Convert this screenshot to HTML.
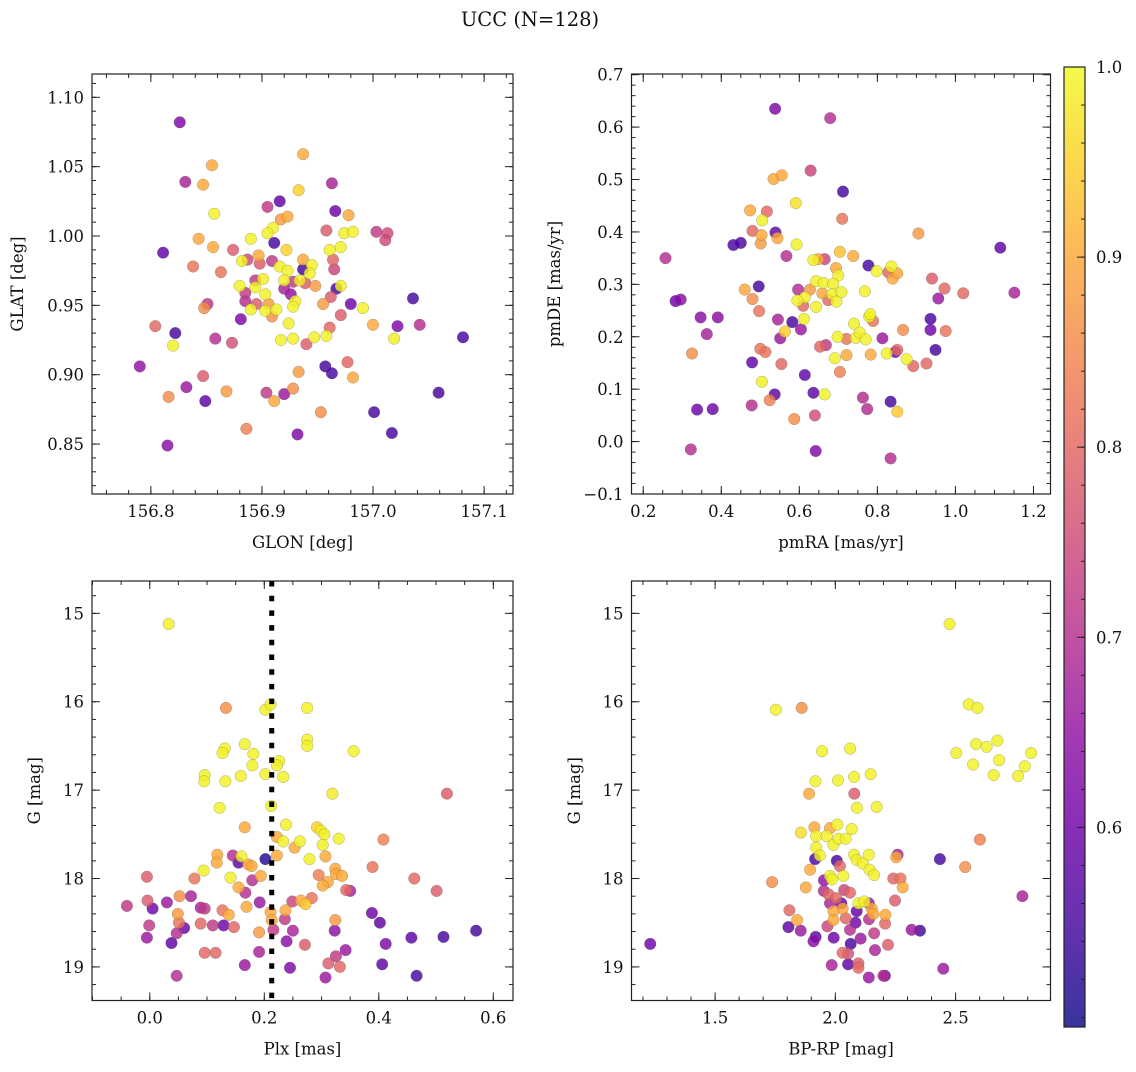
<!DOCTYPE html>
<html><head><meta charset="utf-8"><style>
html,body{margin:0;padding:0;background:#fff;}
svg text{font-family:"DejaVu Serif","Liberation Serif",serif;fill:#111;}
</style></head><body>
<svg id="fig" width="1136" height="1067" viewBox="0 0 1136 1067" xmlns="http://www.w3.org/2000/svg">
<defs>
<linearGradient id="plasma" x1="0" y1="1" x2="0" y2="0">
<stop offset="0" stop-color="#0d0887"/><stop offset="0.1" stop-color="#41049d"/><stop offset="0.2" stop-color="#6a00a8"/><stop offset="0.3" stop-color="#8f0da4"/><stop offset="0.4" stop-color="#b12a90"/><stop offset="0.5" stop-color="#cc4778"/><stop offset="0.6" stop-color="#e16462"/><stop offset="0.7" stop-color="#f2844b"/><stop offset="0.8" stop-color="#fca636"/><stop offset="0.9" stop-color="#fcce25"/><stop offset="1" stop-color="#f0f921"/>
</linearGradient>
</defs>
<text x="530" y="26" font-size="19.5" text-anchor="middle">UCC (N=128)</text>
</svg>
<script>
// Panel A: GLON vs GLAT
const glon=[156.826,156.937,156.855,156.831,156.847,156.933,156.963,156.916,156.905,156.966,156.857,156.923,156.917,156.978,156.91,156.905,156.958,156.974,156.982,157.003,157.013,157.011,156.843,156.89,156.911,156.811,156.856,156.922,156.961,156.971,156.874,156.897,156.838,156.863,156.882,156.887,156.898,156.909,156.916,156.923,156.937,156.945,156.937,156.964,156.965,156.943,156.92,156.934,156.928,156.939,156.948,156.901,156.894,156.88,156.894,156.92,156.926,156.967,156.971,156.885,156.903,156.885,156.895,156.906,156.93,156.962,156.955,156.98,157.036,156.851,156.848,156.89,156.903,156.913,156.909,156.928,156.991,156.971,156.881,156.924,157.0,157.022,157.042,156.961,156.804,156.822,156.82,156.858,156.873,156.917,156.928,156.94,156.947,156.958,157.019,157.081,156.79,156.957,156.963,156.977,156.982,156.933,156.847,156.832,156.816,156.868,156.849,156.904,156.92,156.928,156.911,157.059,156.953,157.001,157.017,156.886,156.932,156.815];
const glat=[1.082,1.059,1.051,1.039,1.037,1.033,1.038,1.025,1.021,1.018,1.016,1.014,1.012,1.015,1.006,1.002,1.004,1.002,1.003,1.003,1.002,0.997,0.998,0.998,0.995,0.988,0.992,0.99,0.99,0.992,0.99,0.986,0.978,0.974,0.982,0.983,0.98,0.982,0.978,0.975,0.983,0.979,0.976,0.983,0.976,0.973,0.968,0.968,0.967,0.966,0.964,0.969,0.968,0.964,0.963,0.962,0.958,0.962,0.964,0.959,0.958,0.953,0.951,0.951,0.953,0.956,0.951,0.951,0.955,0.951,0.948,0.947,0.946,0.947,0.942,0.949,0.948,0.943,0.94,0.937,0.936,0.935,0.936,0.934,0.935,0.93,0.921,0.926,0.923,0.925,0.926,0.922,0.927,0.928,0.926,0.927,0.906,0.906,0.901,0.909,0.898,0.902,0.899,0.891,0.884,0.888,0.881,0.887,0.886,0.89,0.881,0.887,0.873,0.873,0.858,0.861,0.857,0.849];
const probA=[0.62,0.9,0.9,0.68,0.9,0.95,0.68,0.58,0.72,0.6,0.99,0.9,0.88,0.9,0.99,0.99,0.78,0.99,0.99,0.72,0.75,0.75,0.9,0.99,0.55,0.58,0.9,0.95,0.99,0.99,0.78,0.9,0.82,0.82,0.99,0.75,0.78,0.72,0.99,0.99,0.9,0.99,0.55,0.8,0.74,0.99,0.99,0.99,0.72,0.78,0.88,0.99,0.72,0.99,0.99,0.68,0.65,0.55,0.99,0.72,0.99,0.7,0.78,0.88,0.99,0.78,0.88,0.6,0.55,0.72,0.86,0.99,0.99,0.99,0.86,0.99,0.99,0.78,0.62,0.99,0.9,0.62,0.7,0.8,0.8,0.55,0.99,0.7,0.76,0.99,0.99,0.78,0.99,0.99,0.99,0.55,0.65,0.55,0.55,0.8,0.9,0.88,0.78,0.66,0.86,0.88,0.58,0.72,0.66,0.86,0.9,0.55,0.86,0.55,0.55,0.84,0.62,0.64];
// Panel B: pmRA vs pmDE
const pmra=[0.538,0.679,0.534,0.555,0.629,0.712,0.591,0.474,0.517,0.505,0.71,0.48,0.503,0.501,0.539,0.544,0.431,0.45,0.593,0.567,0.905,1.115,0.257,0.636,0.648,0.665,0.704,0.738,0.777,0.798,0.828,0.836,0.839,0.851,0.694,0.7,0.643,0.662,0.687,0.496,0.46,0.48,0.597,0.627,0.614,0.595,0.61,0.643,0.659,0.674,0.684,0.708,0.695,0.768,0.283,0.296,0.94,0.972,1.02,0.956,1.151,0.347,0.391,0.363,0.497,0.545,0.582,0.612,0.604,0.563,0.551,0.668,0.653,0.698,0.721,0.74,0.745,0.755,0.77,0.779,0.789,0.782,0.813,0.866,0.936,0.975,0.936,0.949,0.851,0.846,0.824,0.783,0.721,0.691,0.875,0.892,0.926,0.325,0.5,0.513,0.479,0.554,0.504,0.614,0.704,0.537,0.524,0.636,0.665,0.763,0.478,0.338,0.378,0.587,0.64,0.774,0.834,0.851,0.322,0.642,0.834];
const pmde=[0.635,0.617,0.501,0.508,0.517,0.477,0.455,0.441,0.439,0.422,0.425,0.402,0.394,0.378,0.399,0.388,0.375,0.379,0.376,0.354,0.397,0.37,0.35,0.346,0.348,0.348,0.362,0.354,0.336,0.325,0.323,0.334,0.311,0.321,0.331,0.317,0.306,0.303,0.301,0.296,0.29,0.272,0.29,0.29,0.275,0.269,0.259,0.257,0.283,0.27,0.281,0.285,0.267,0.287,0.268,0.271,0.311,0.292,0.283,0.273,0.284,0.237,0.237,0.205,0.249,0.233,0.228,0.234,0.214,0.21,0.197,0.184,0.181,0.2,0.196,0.225,0.198,0.208,0.195,0.238,0.23,0.243,0.197,0.213,0.213,0.211,0.234,0.175,0.175,0.171,0.168,0.166,0.165,0.159,0.157,0.144,0.149,0.168,0.177,0.171,0.151,0.148,0.114,0.127,0.133,0.09,0.079,0.093,0.09,0.084,0.069,0.061,0.062,0.043,0.05,0.062,0.076,0.057,-0.015,-0.018,-0.032];
const probB=[0.62,0.7,0.9,0.9,0.74,0.55,0.97,0.9,0.8,0.99,0.82,0.8,0.9,0.88,0.58,0.9,0.56,0.56,0.99,0.7,0.88,0.58,0.7,0.99,0.9,0.74,0.93,0.9,0.55,0.99,0.8,0.99,0.9,0.9,0.9,0.99,0.99,0.99,0.99,0.55,0.9,0.86,0.7,0.88,0.99,0.99,0.8,0.99,0.9,0.8,0.99,0.99,0.99,0.99,0.6,0.64,0.78,0.8,0.8,0.66,0.68,0.64,0.64,0.68,0.82,0.68,0.55,0.99,0.66,0.95,0.66,0.72,0.8,0.99,0.82,0.99,0.99,0.99,0.99,0.99,0.82,0.99,0.66,0.86,0.6,0.82,0.55,0.55,0.8,0.6,0.99,0.9,0.9,0.99,0.99,0.8,0.8,0.86,0.82,0.82,0.58,0.8,0.99,0.58,0.84,0.58,0.84,0.58,0.99,0.7,0.7,0.6,0.6,0.86,0.76,0.7,0.55,0.94,0.7,0.62,0.7];
// Panel C: Plx vs G
const plx=[0.033,0.133,0.202,0.211,0.275,0.275,0.275,0.166,0.131,0.127,0.181,0.226,0.222,0.179,0.356,0.096,0.095,0.159,0.202,0.233,0.132,0.319,0.519,0.122,0.212,0.166,0.238,0.292,0.299,0.305,0.222,0.233,0.262,0.253,0.302,0.33,0.408,0.118,0.117,0.145,0.155,0.16,0.172,0.178,0.202,0.222,0.279,0.307,0.094,0.324,0.389,-0.005,0.078,0.141,0.179,0.194,0.295,0.311,0.302,0.325,0.336,0.462,0.501,0.155,0.167,0.343,0.35,0.052,0.072,-0.004,0.03,-0.04,0.005,0.089,0.096,0.192,0.169,0.249,0.264,0.272,0.283,0.127,0.138,0.049,0.051,0.06,0.089,0.11,0.129,0.147,-0.001,-0.005,0.047,0.038,0.211,0.213,0.237,0.236,0.191,0.216,0.25,0.239,0.271,0.323,0.324,0.388,0.402,0.412,0.457,0.513,0.57,0.096,0.115,0.191,0.342,0.325,0.312,0.332,0.166,0.245,0.406,0.047,0.307,0.466];
const gmagC=[15.12,16.07,16.09,16.03,16.07,16.43,16.5,16.48,16.53,16.58,16.59,16.67,16.72,16.72,16.56,16.83,16.9,16.84,16.82,16.85,16.9,17.04,17.04,17.2,17.18,17.42,17.39,17.42,17.46,17.5,17.53,17.58,17.58,17.65,17.62,17.55,17.56,17.73,17.82,17.74,17.82,17.75,17.84,17.86,17.78,17.74,17.78,17.75,17.91,17.89,17.87,17.98,18.0,17.99,18.02,17.97,17.96,18.04,18.08,17.95,17.97,18.0,18.14,18.1,18.16,18.13,18.14,18.2,18.2,18.25,18.27,18.31,18.34,18.33,18.34,18.27,18.32,18.26,18.25,18.29,18.22,18.36,18.41,18.4,18.5,18.56,18.51,18.53,18.53,18.55,18.53,18.67,18.62,18.73,18.38,18.47,18.36,18.46,18.61,18.58,18.59,18.71,18.75,18.59,18.47,18.39,18.5,18.74,18.67,18.66,18.59,18.84,18.84,18.83,18.81,18.88,18.96,19.0,18.98,19.01,18.97,19.1,19.12,19.1];
const probC=[0.99,0.86,0.99,0.99,0.99,0.99,0.99,0.99,0.99,0.99,0.99,0.99,0.99,0.99,0.99,0.99,0.99,0.99,0.99,0.99,0.99,0.98,0.78,0.99,0.99,0.9,0.99,0.95,0.99,0.99,0.9,0.99,0.99,0.9,0.99,0.99,0.84,0.9,0.9,0.7,0.58,0.99,0.9,0.9,0.52,0.9,0.99,0.9,0.99,0.9,0.82,0.78,0.82,0.99,0.7,0.9,0.84,0.9,0.9,0.9,0.9,0.8,0.78,0.9,0.7,0.8,0.68,0.86,0.68,0.78,0.66,0.72,0.6,0.68,0.72,0.66,0.9,0.74,0.9,0.94,0.82,0.82,0.9,0.88,0.82,0.6,0.8,0.72,0.6,0.8,0.72,0.66,0.7,0.58,0.9,0.9,0.9,0.72,0.88,0.72,0.68,0.64,0.78,0.64,0.88,0.6,0.58,0.62,0.58,0.55,0.55,0.8,0.8,0.68,0.66,0.72,0.78,0.8,0.66,0.62,0.58,0.7,0.66,0.55];
const plxMedian=0.213;
// Panel D: BP-RP vs G
const bprp=[2.475,1.753,1.86,2.555,2.591,2.674,2.585,2.629,2.503,2.814,2.573,2.681,2.788,2.658,2.76,1.945,2.062,1.917,2.011,2.078,2.147,1.891,2.079,2.09,2.172,1.857,1.913,1.92,1.92,1.936,1.978,2.008,1.964,1.992,2.013,2.043,2.068,1.916,2.006,2.019,1.895,2.078,2.089,2.114,2.139,2.142,2.161,2.033,1.978,1.986,1.953,2.259,2.253,2.435,2.601,2.54,1.737,1.877,2.241,2.271,2.28,2.778,2.248,1.952,1.972,2.003,2.037,2.061,2.025,1.978,2.096,2.121,2.139,2.151,2.03,1.992,2.089,2.158,2.208,1.992,2.043,2.14,2.207,1.809,1.841,1.805,1.856,1.967,2.084,2.061,1.918,1.909,1.993,2.064,2.105,2.161,2.219,2.165,2.03,2.053,1.23,2.317,2.352,1.985,2.053,2.096,2.096,2.139,2.2,2.206,2.449];
const gmagD=[15.12,16.09,16.07,16.03,16.07,16.44,16.48,16.51,16.58,16.58,16.71,16.66,16.73,16.83,16.84,16.56,16.53,16.9,16.89,16.85,16.82,17.04,17.04,17.2,17.19,17.48,17.42,17.52,17.65,17.74,17.43,17.39,17.52,17.62,17.55,17.55,17.44,17.78,17.8,17.86,17.9,17.73,17.79,17.83,17.73,17.9,17.96,17.97,17.97,18.01,18.02,17.73,17.76,17.78,17.56,17.87,18.04,18.1,18.0,18.0,18.1,18.2,18.25,18.14,18.18,18.22,18.13,18.16,18.28,18.28,18.28,18.26,18.28,18.34,18.34,18.37,18.37,18.4,18.41,18.47,18.45,18.46,18.51,18.36,18.47,18.55,18.59,18.54,18.5,18.58,18.66,18.71,18.67,18.74,18.68,18.62,18.75,18.81,18.84,18.85,18.74,18.58,18.59,18.98,18.97,18.96,19.01,19.12,19.1,19.1,19.02];
const probD=[0.99,0.99,0.86,0.99,0.99,0.99,0.99,0.99,0.99,0.99,0.99,0.99,0.99,0.99,0.99,0.99,0.99,0.99,0.99,0.99,0.99,0.9,0.78,0.99,0.99,0.97,0.9,0.99,0.99,0.99,0.9,0.99,0.99,0.99,0.99,0.99,0.99,0.55,0.55,0.8,0.9,0.99,0.99,0.99,0.99,0.99,0.99,0.99,0.99,0.99,0.65,0.68,0.9,0.55,0.84,0.86,0.86,0.9,0.8,0.82,0.9,0.68,0.78,0.7,0.8,0.8,0.74,0.8,0.6,0.68,0.99,0.99,0.66,0.9,0.9,0.9,0.58,0.9,0.9,0.9,0.8,0.7,0.8,0.8,0.9,0.58,0.66,0.74,0.6,0.7,0.58,0.64,0.6,0.55,0.66,0.72,0.78,0.68,0.8,0.76,0.6,0.66,0.55,0.68,0.58,0.78,0.8,0.66,0.7,0.6,0.66];
const cbTicks=[0.6,0.7,0.8,0.9,1.0];
const vmin=0.495, vmax=1.0;

const NS='http://www.w3.org/2000/svg';
const svg=document.getElementById('fig');
const stops=[[13,8,135],[65,4,157],[106,0,168],[143,13,164],[177,42,144],[204,71,120],[225,100,98],[242,132,75],[252,166,54],[252,206,37],[240,249,33]];
function cmap(v){let t=(v-vmin)/(vmax-vmin);t=Math.max(0,Math.min(1,t))*10;const i=Math.min(9,Math.floor(t)),f=t-i;const a=stops[i],b=stops[i+1];return 'rgb('+a.map((c,k)=>Math.round(c+(b[k]-c)*f)).join(',')+')';}
function el(tag,attrs,parent){const e=document.createElementNS(NS,tag);for(const k in attrs)e.setAttribute(k,attrs[k]);(parent||svg).appendChild(e);return e;}
function fmt(v,d){const s=Math.abs(v).toFixed(d);return (v<-1e-9?'\u2212':'')+s;}

function panel(cfg){
  const g=el('g',{});
  
  
  const L=cfg.box[0],R=cfg.box[1],T=cfg.box[2],B=cfg.box[3];
  const sx=v=>L+(v-cfg.xr[0])/(cfg.xr[1]-cfg.xr[0])*(R-L);
  const sy=v=>cfg.yinv? T+(v-cfg.yr[0])/(cfg.yr[1]-cfg.yr[0])*(B-T) : B-(v-cfg.yr[0])/(cfg.yr[1]-cfg.yr[0])*(B-T);
  const pg=el('g',{},g);
  
  
  const order=cfg.xs.map((_,i)=>i).sort((a,b)=>cfg.c[a]-cfg.c[b]);
  order.forEach(i=>{
    const c=el('circle',{cx:sx(cfg.xs[i]).toFixed(1),cy:sy(cfg.ys[i]).toFixed(1),r:5.8,fill:cmap(cfg.c[i]),'fill-opacity':0.82,stroke:'#555','stroke-opacity':0.45,'stroke-width':0.5},pg);
    
    
  });
  if(cfg.vline!==undefined){
    const l=el('line',{x1:sx(cfg.vline),x2:sx(cfg.vline),y1:T,y2:B,stroke:'#000','stroke-width':5,'stroke-dasharray':'5.5,9.2'},g);
    
    
  }
  const f=el('rect',{x:L,y:T,width:R-L,height:B-T,fill:'none',stroke:'#222','stroke-width':1.2},g);
  
  
  const tk=el('g',{stroke:'#222','stroke-width':1},g);
  
  
  const eps=1e-9;
  for(let v=Math.ceil(cfg.xr[0]/cfg.xminor-eps)*cfg.xminor;v<=cfg.xr[1]+eps;v+=cfg.xminor){
    const x=sx(v);el('line',{x1:x,x2:x,y1:B,y2:B-4},tk);el('line',{x1:x,x2:x,y1:T,y2:T+4},tk);}
  cfg.xt.forEach(v=>{const x=sx(v);el('line',{x1:x,x2:x,y1:B,y2:B-8},tk);el('line',{x1:x,x2:x,y1:T,y2:T+8},tk);
    const t=el('text',{x:x,y:B+23,'font-size':16.5,'text-anchor':'middle'},g);t.textContent=fmt(v,cfg.xd);
    });
  for(let v=Math.ceil(Math.min(...cfg.yr)/cfg.yminor-eps)*cfg.yminor;v<=Math.max(...cfg.yr)+eps;v+=cfg.yminor){
    const y=sy(v);el('line',{x1:L,x2:L+4,y1:y,y2:y},tk);el('line',{x1:R,x2:R-4,y1:y,y2:y},tk);}
  cfg.yt.forEach(v=>{const y=sy(v);el('line',{x1:L,x2:L+8,y1:y,y2:y},tk);el('line',{x1:R,x2:R-8,y1:y,y2:y},tk);
    const t=el('text',{x:L-8,y:y+6,'font-size':16.5,'text-anchor':'end'},g);t.textContent=fmt(v,cfg.yd);
    });
  const xl=el('text',{x:(L+R)/2,y:B+54,'font-size':16.5,'text-anchor':'middle'},g);xl.textContent=cfg.xlab;
  
  const yl=el('text',{x:0,y:0,'font-size':16.5,'text-anchor':'middle',transform:'translate('+cfg.ylx+','+(T+B)/2+') rotate(-90)'},g);yl.textContent=cfg.ylab;
  
}

panel({name:'panel-glon-glat',box:[92,513,74,494],xr:[156.747,157.126],yr:[0.814,1.1168],xs:glon,ys:glat,c:probA,
  xt:[156.8,156.9,157.0,157.1],xminor:0.02,xd:1,yt:[0.85,0.9,0.95,1.0,1.05,1.1],yminor:0.01,yd:2,xlab:'GLON [deg]',ylab:'GLAT [deg]',ylx:23});
panel({name:'panel-pmra-pmde',box:[631.5,1050.5,74,494],xr:[0.170,1.2436],yr:[-0.1,0.7013],xs:pmra,ys:pmde,c:probB,
  xt:[0.2,0.4,0.6,0.8,1.0,1.2],xminor:0.05,xd:1,yt:[-0.1,0,0.1,0.2,0.3,0.4,0.5,0.6,0.7],yminor:0.02,yd:1,xlab:'pmRA [mas/yr]',ylab:'pmDE [mas/yr]',ylx:560});
panel({name:'panel-plx-g',box:[92,513,581,1000.5],xr:[-0.1009,0.6344],yr:[14.634,19.38],yinv:true,xs:plx,ys:gmagC,c:probC,vline:plxMedian,
  xt:[0,0.2,0.4,0.6],xminor:0.05,xd:1,yt:[15,16,17,18,19],yminor:0.2,yd:0,xlab:'Plx [mas]',ylab:'G [mag]',ylx:40});
panel({name:'panel-bprp-g',box:[631.5,1050.5,581,1000.5],xr:[1.1524,2.8947],yr:[14.634,19.38],yinv:true,xs:bprp,ys:gmagD,c:probD,
  xt:[1.5,2.0,2.5],xminor:0.1,xd:1,yt:[15,16,17,18,19],yminor:0.2,yd:0,xlab:'BP-RP [mag]',ylab:'G [mag]',ylx:580});

(function(){
  const g=el('g',{});
  
  
  const L=1064,R=1085,T=67,B=1027;
  const sy=v=>B-(v-vmin)/(vmax-vmin)*(B-T);
  el('rect',{x:L,y:T,width:R-L,height:B-T,fill:'url(#plasma)','fill-opacity':0.82},g);
  el('rect',{x:L,y:T,width:R-L,height:B-T,fill:'none',stroke:'#222','stroke-width':1.2},g);
  for(let v=0.5;v<=1.0001;v+=0.02){const y=sy(v);if(y<T||y>B)continue;el('line',{x1:R,x2:R-4,y1:y,y2:y,stroke:'#222'},g);}
  cbTicks.forEach(v=>{const y=sy(v);el('line',{x1:R,x2:R-8,y1:y,y2:y,stroke:'#222'},g);
    const t=el('text',{x:R+11,y:y+6,'font-size':16.5},g);t.textContent=v.toFixed(1);
    });
})();
</script>
</body></html>
